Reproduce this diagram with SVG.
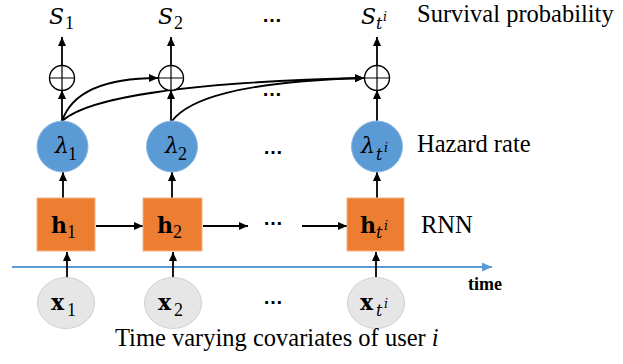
<svg xmlns="http://www.w3.org/2000/svg" width="623" height="364" viewBox="0 0 623 364">
  <style>
    .lbl { font-family: "Liberation Serif", "Times New Roman", serif; font-size: 24.5px; fill: #000; }
    .mi { font-family: "DejaVu Serif", serif; font-style: italic; font-size: 22px; fill: #000; }
    .mb { font-family: "DejaVu Serif", serif; font-weight: bold; font-size: 22px; fill: #000; }
    .sub { font-family: "Liberation Serif", "Times New Roman", serif; font-size: 18px; fill: #000; }
    .subi { font-family: "DejaVu Serif", serif; font-style: italic; font-size: 16px; fill: #000; }
    .sup { font-family: "DejaVu Serif", serif; font-style: italic; font-size: 12.5px; fill: #000; }
    .dots { font-family: "Liberation Sans", Arial, sans-serif; font-weight: bold; font-size: 20px; fill: #000; }
    .arrow { stroke: #000; stroke-width: 1.8; fill: none; marker-end: url(#ah); }
    .hazard { fill: #5B9BD5; stroke: #8DB6E0; stroke-width: 1; }
    .rnn { fill: #ED7D31; stroke: #F2B48A; stroke-width: 1; }
    .input { fill: #E7E6E6; stroke: #D0D0D0; stroke-width: 1; }
    .sum { fill: #fff; stroke: #000; stroke-width: 1.4; }
  </style>
  <defs>
    <marker id="ah" markerUnits="userSpaceOnUse" markerWidth="9" markerHeight="8" refX="9" refY="4" orient="auto">
      <path d="M0,0 L9,4 L0,8 z" fill="#000"/>
    </marker>
    <marker id="ahb" markerUnits="userSpaceOnUse" markerWidth="10" markerHeight="9" refX="10" refY="4.5" orient="auto">
      <path d="M0,0 L10,4.5 L0,9 z" fill="#5B9BD5"/>
    </marker>
  </defs>

  <rect width="623" height="364" fill="#fff"/>

  <!-- time axis -->
  <g id="time-axis">
    <line x1="12" y1="267" x2="492" y2="267" stroke="#5B9BD5" stroke-width="2" marker-end="url(#ahb)"/>
    <text x="468" y="290" class="lbl" style="font-weight:bold;font-size:18px">time</text>
  </g>

  <!-- connectors -->
  <g id="connectors">
    <!-- inputs to RNN cells -->
    <line class="arrow" x1="67" y1="278" x2="67" y2="252"/>
    <line class="arrow" x1="173" y1="278" x2="173" y2="252"/>
    <line class="arrow" x1="376" y1="278" x2="376" y2="252"/>
    <!-- recurrent links -->
    <line class="arrow" x1="96" y1="226" x2="143" y2="226"/>
    <line class="arrow" x1="203" y1="226" x2="248" y2="226"/>
    <line class="arrow" x1="302" y1="226" x2="347" y2="226"/>
    <!-- RNN cells to hazard rates -->
    <line class="arrow" x1="63" y1="198" x2="63" y2="172"/>
    <line class="arrow" x1="172" y1="198" x2="172" y2="172"/>
    <line class="arrow" x1="377" y1="198" x2="377" y2="172"/>
    <!-- hazard rates to sums -->
    <line class="arrow" x1="62" y1="121" x2="62" y2="90"/>
    <line class="arrow" x1="171" y1="121" x2="171" y2="90"/>
    <line class="arrow" x1="377" y1="121" x2="377" y2="90"/>
    <!-- sums to survival outputs -->
    <line class="arrow" x1="62" y1="65" x2="62" y2="37"/>
    <line class="arrow" x1="171" y1="65" x2="171" y2="37"/>
    <line class="arrow" x1="377" y1="65" x2="377" y2="37"/>
    <!-- cumulative links -->
    <path class="arrow" d="M62,121 C72,92 106,78 158,78"/>
    <path class="arrow" d="M62,121 C88,97 190,82 364,78"/>
    <path class="arrow" d="M172,121 C188,100 235,82 364,78"/>
  </g>

  <!-- survival outputs -->
  <g id="S1"><text x="49" y="24" class="mi">S</text><text x="65" y="29" class="sub">1</text></g>
  <g id="S2"><text x="158" y="24" class="mi">S</text><text x="174" y="29" class="sub">2</text></g>
  <g id="S3"><text x="361" y="24" class="mi">S</text><text x="376" y="29" class="subi">t</text><text x="383" y="21" class="sup">i</text></g>
  <text x="262" y="22" class="dots">…</text>

  <!-- sum nodes -->
  <g id="sum1"><circle cx="62" cy="78" r="12.5" class="sum"/><path d="M49.5,78 H74.5 M62,65.5 V90.5" stroke="#000" stroke-width="1.2"/></g>
  <g id="sum2"><circle cx="171" cy="78" r="12.5" class="sum"/><path d="M158.5,78 H183.5 M171,65.5 V90.5" stroke="#000" stroke-width="1.2"/></g>
  <g id="sum3"><circle cx="377" cy="78" r="12.5" class="sum"/><path d="M364.5,78 H389.5 M377,65.5 V90.5" stroke="#000" stroke-width="1.2"/></g>
  <text x="262" y="96" class="dots">…</text>

  <!-- hazard rates -->
  <g id="lambda1"><circle cx="62.5" cy="146.5" r="25.5" class="hazard"/><text x="55" y="153" class="mi">λ</text><text x="68" y="160" class="sub">1</text></g>
  <g id="lambda2"><circle cx="172" cy="146.5" r="25.5" class="hazard"/><text x="165" y="153" class="mi">λ</text><text x="178" y="160" class="sub">2</text></g>
  <g id="lambda3"><circle cx="377" cy="146.5" r="25.5" class="hazard"/><text x="361" y="153" class="mi">λ</text><text x="376" y="160" class="subi">t</text><text x="384" y="152" class="sup">i</text></g>
  <text x="263" y="154" class="dots">…</text>

  <!-- RNN cells -->
  <g id="h1"><rect x="37" y="198" width="58" height="53" class="rnn"/><text x="51" y="233" class="mb">h</text><text x="67" y="238" class="sub">1</text></g>
  <g id="h2"><rect x="143" y="198" width="59" height="53" class="rnn"/><text x="157" y="233" class="mb">h</text><text x="173" y="238" class="sub">2</text></g>
  <g id="h3"><rect x="347" y="198" width="57" height="53" class="rnn"/><text x="360" y="233" class="mb">h</text><text x="376" y="238" class="subi">t</text><text x="384" y="230" class="sup">i</text></g>
  <text x="263" y="225" class="dots">…</text>

  <!-- inputs -->
  <g id="x1"><ellipse cx="66" cy="303" rx="28.5" ry="25.5" class="input"/><text x="51" y="310" class="mb">x</text><text x="67" y="316" class="sub">1</text></g>
  <g id="x2"><ellipse cx="173" cy="303" rx="28.5" ry="25.5" class="input"/><text x="158" y="310" class="mb">x</text><text x="174" y="316" class="sub">2</text></g>
  <g id="x3"><ellipse cx="376" cy="303" rx="28.5" ry="25.5" class="input"/><text x="360" y="310" class="mb">x</text><text x="376" y="316" class="subi">t</text><text x="384" y="308" class="sup">i</text></g>
  <text x="263" y="304" class="dots">…</text>

  <!-- side labels -->
  <g id="legend">
    <text x="417" y="22" class="lbl">Survival probability</text>
    <text x="417" y="152" class="lbl">Hazard rate</text>
    <text x="421" y="233" class="lbl">RNN</text>
    <text x="115" y="346" class="lbl">Time varying covariates of user <tspan font-style="italic">i</tspan></text>
  </g>
</svg>
